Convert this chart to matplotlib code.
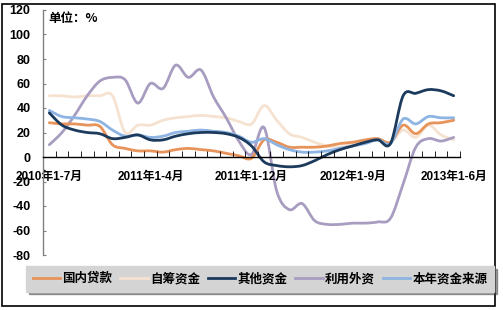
import matplotlib
matplotlib.use("Agg")
import matplotlib.pyplot as plt
import numpy as np
from matplotlib.path import Path
from matplotlib.patches import PathPatch, Rectangle
from matplotlib.lines import Line2D

# ---- data ----
months = (["2010年1-%d月" % m for m in range(7, 13)] +
          ["2011年1-%d月" % m for m in range(2, 13)] +
          ["2012年1-%d月" % m for m in range(2, 13)] +
          ["2013年1-%d月" % m for m in range(2, 7)])
label_idx = [0, 8, 16, 24, 32]

domestic_loans = [28, 27, 27, 26, 25, 10, 7, 5, 5, 4, 6, 7, 6, 5, 3, 1, -1,
                  14, 12, 8, 8, 8, 9, 11, 12, 14, 15, 12, 26, 19, 27, 28, 30]
self_raised = [50, 50, 49, 50, 50, 50, 20, 26, 26, 30, 32, 33, 34, 33, 32, 29, 27,
               42, 30, 19, 16, 12, 9, 8, 10, 12, 14, 12, 22, 16, 26, 18, 14]
other_funds = [36, 26, 22, 20, 19, 15, 16, 18, 14, 14, 17, 19, 20, 20, 19, 16, 9,
               -4, -7, -8, -7, -3, 2, 6, 9, 12, 14, 11, 50, 52, 55, 54, 50]
foreign = [10, 20, 34, 50, 62, 65, 63, 44, 60, 56, 75, 65, 71, 49, 32, 13, 2,
           24, -28, -43, -38, -52, -55, -55, -54, -54, -53, -50, -22, 8, 15, 13, 16]
total_funds = [38, 33, 32, 31, 29, 22, 17, 18, 16, 17, 20, 21, 22, 21, 20, 17, 12,
               15, 10, 6, 4, 4, 5, 7, 9, 11, 14, 11, 31, 27, 33, 32, 32]

series_names = ["国内贷款", "自筹资金", "其他资金", "利用外资", "本年资金来源"]
series_values = [domestic_loans, self_raised, other_funds, foreign, total_funds]
colors = ["#E8935A", "#F6E2D0", "#1B3A5C", "#A89DC0", "#8DB4E2"]
y_ticks = [-80, -60, -40, -20, 0, 20, 40, 60, 80, 100, 120]

cjk = ["Liberation Sans", "Noto Sans CJK SC"]
plt.rcParams["font.family"] = cjk


def smooth_path(xs, ys):
    pts = np.column_stack([xs, ys]).astype(float)
    n = len(pts)
    verts = [pts[0]]
    codes = [Path.MOVETO]
    for i in range(n - 1):
        p0 = pts[i - 1] if i > 0 else pts[i]
        p1 = pts[i]
        p2 = pts[i + 1]
        p3 = pts[i + 2] if i + 2 < n else pts[i + 1]
        c1 = p1 + (p2 - p0) / 6.0
        c2 = p2 - (p3 - p1) / 6.0
        verts += [c1, c2, p2]
        codes += [Path.CURVE4] * 3
    return Path(verts, codes)


fig = plt.figure(figsize=(5.03, 3.10), dpi=100)
ax = fig.add_axes([43 / 503, 55 / 310, 417 / 503, 245 / 310])

x = np.arange(len(months))
order = [1, 3, 0, 4, 2]
for k in order:
    p = smooth_path(x, series_values[k])
    ax.add_patch(PathPatch(p, facecolor="none", edgecolor=colors[k], lw=2.0,
                           capstyle="round", joinstyle="round"))

ax.set_xlim(-0.5, len(months) - 0.5)
ax.set_ylim(-80, 120)

for s in ["top", "right"]:
    ax.spines[s].set_visible(False)
ax.spines["left"].set_color("#808080")
ax.spines["left"].set_linewidth(1.0)
ax.spines["bottom"].set_position(("data", 0))
ax.spines["bottom"].set_color("#000000")
ax.spines["bottom"].set_linewidth(1.0)

ax.set_yticks(y_ticks)
ax.set_yticklabels([str(v) for v in y_ticks], fontsize=9, fontweight="bold",
                   family="Liberation Sans")
ax.tick_params(axis="y", direction="in", length=2, color="#808080", pad=9)

ax.set_xticks(label_idx)
ax.set_xticklabels([months[i] for i in label_idx], fontsize=8.5, fontweight="bold",
                   family=cjk)
ax.tick_params(axis="x", which="major", length=0, pad=10)
ax.set_xticks(np.arange(-0.5, len(months), 1.0), minor=True)
ax.tick_params(axis="x", which="minor", direction="in", length=4, color="#000000")

ax.text(0.013, 0.965, "单位：%", transform=ax.transAxes, fontsize=9,
        fontweight="bold", family=["Noto Sans CJK SC"], va="center", ha="left")

handles = [Line2D([], [], color=c, lw=2.0) for c in colors]
leg = fig.legend(handles, series_names, loc="center", bbox_to_anchor=(260 / 503, 1 - 279 / 310),
                 ncol=5, frameon=True, fancybox=False, shadow=True,
                 prop={"family": cjk, "size": 9, "weight": "bold"},
                 handlelength=2.2, handletextpad=0.2, columnspacing=0.6,
                 borderpad=0.5)
leg.get_frame().set_facecolor("#D4D4D4")
leg.get_frame().set_edgecolor("#D4D4D4")

fig.patches.append(Rectangle((2 / 503, 4 / 310), 493 / 503, 302 / 310,
                             transform=fig.transFigure, fill=False,
                             edgecolor="black", lw=1.2))

fig.savefig("out.png", dpi=100)
